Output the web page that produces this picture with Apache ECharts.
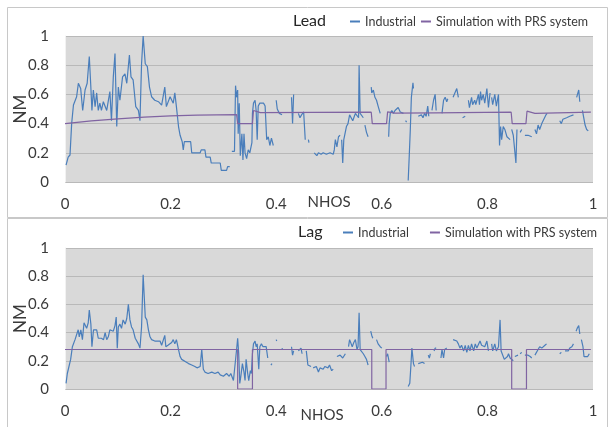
<!DOCTYPE html>
<html>
<head>
<meta charset="utf-8">
<script src="https://cdn.jsdelivr.net/npm/echarts@6/dist/echarts.min.js"></script>
<style>
html, body { margin: 0; background: #fff; }
#chart { width: 613px; height: 427px; }
</style>
</head>
<body>
<div id="chart"></div>
<script>
// [NHOS, NM] pairs, null = gap in the record
const leadIndustrial = [
  [0.002,0.116],[0.006,0.17],[0.0095,0.185],[0.0126,0.40],[0.016,0.527],[0.022,0.584],[0.0253,0.676],[0.0297,0.64],
  [0.0335,0.49],[0.038,0.63],[0.042,0.676],[0.046,0.86],[0.0486,0.676],[0.051,0.49],[0.0537,0.63],[0.057,0.516],
  [0.060,0.61],[0.063,0.49],[0.066,0.54],[0.069,0.49],[0.0726,0.55],[0.079,0.49],[0.085,0.62],[0.088,0.42],
  [0.0915,0.72],[0.0947,0.88],[0.098,0.38],[0.101,0.65],[0.104,0.56],[0.109,0.72],[0.1136,0.74],[0.117,0.676],
  [0.122,0.87],[0.125,0.72],[0.129,0.70],[0.134,0.516],[0.139,0.49],[0.142,0.42],[0.145,0.81],[0.148,1.0],
  [0.152,0.81],[0.156,0.79],[0.160,0.65],[0.164,0.584],[0.170,0.56],[0.177,0.55],[0.183,0.527],[0.189,0.65],
  [0.192,0.516],[0.199,0.584],[0.205,0.54],[0.208,0.61],[0.211,0.516],[0.215,0.38],[0.218,0.32],[0.222,0.276],
  [0.224,0.22],[0.226,0.276],[0.238,0.276],[0.24,0.2],[0.256,0.2],[0.258,0.22],[0.265,0.22],[0.267,0.17],
  [0.275,0.17],[0.277,0.13],[0.294,0.13],[0.296,0.08],[0.306,0.08],[0.308,0.105],[0.312,0.105],
  null,
  [0.316,0.21],[0.321,0.21],[0.323,0.66],[0.325,0.58],[0.327,0.63],[0.328,0.33],[0.33,0.54],[0.332,0.18],
  [0.335,0.33],[0.337,0.15],[0.339,0.33],[0.341,0.20],[0.344,0.16],[0.347,0.22],[0.35,0.20],[0.354,0.27],
  [0.355,0.47],[0.357,0.54],[0.36,0.56],[0.362,0.49],[0.364,0.29],[0.366,0.52],[0.369,0.54],[0.372,0.53],
  [0.376,0.54],[0.379,0.52],[0.382,0.29],[0.385,0.31],[0.388,0.25],[0.391,0.30],[0.3945,0.25],
  null,
  [0.40,0.56],[0.402,0.50],[0.406,0.47],[0.411,0.46],
  null,
  [0.429,0.58],[0.431,0.40],[0.433,0.60],
  null,
  [0.442,0.47],[0.445,0.44],[0.448,0.46],[0.452,0.48],[0.455,0.29],
  null,
  [0.461,0.29],[0.462,0.27],
  null,
  [0.472,0.20],[0.477,0.18],[0.48,0.20],[0.485,0.19],[0.489,0.20],[0.495,0.19],[0.502,0.20],[0.505,0.20],
  [0.508,0.19],[0.51,0.22],[0.512,0.29],[0.515,0.24],[0.518,0.31],[0.521,0.32],
  null,
  [0.524,0.29],[0.526,0.13],[0.528,0.29],[0.531,0.30],[0.533,0.38],[0.536,0.40],[0.539,0.46],[0.541,0.47],
  [0.545,0.42],[0.548,0.45],[0.55,0.47],[0.553,0.46],[0.556,0.44],[0.557,0.80],[0.559,0.47],[0.562,0.46],[0.565,0.44],
  null,
  [0.568,0.39],[0.571,0.34],[0.574,0.31],
  null,
  [0.58,0.65],[0.581,0.61],[0.584,0.63],[0.587,0.58],[0.59,0.56],[0.593,0.52],[0.597,0.47],
  null,
  [0.613,0.31],[0.614,0.40],[0.616,0.47],[0.619,0.49],[0.622,0.47],[0.625,0.49],[0.628,0.48],[0.631,0.51],
  [0.635,0.48],[0.638,0.49],[0.641,0.47],
  null,
  [0.645,0.42],[0.647,0.41],
  null,
  [0.65,0.01],[0.652,0.18],[0.654,0.36],[0.656,0.58],[0.659,0.68],[0.66,0.64],
  null,
  [0.669,0.45],[0.672,0.44],[0.675,0.46],[0.678,0.44],[0.681,0.47],[0.684,0.45],[0.687,0.52],[0.689,0.45],
  null,
  [0.695,0.49],[0.698,0.56],[0.701,0.60],[0.703,0.49],
  null,
  [0.714,0.47],[0.717,0.56],[0.72,0.58],[0.723,0.55],[0.725,0.57],
  null,
  [0.735,0.58],[0.738,0.57],[0.742,0.64],[0.745,0.58],
  null,
  [0.753,0.44],[0.758,0.45],
  null,
  [0.764,0.56],[0.766,0.51],[0.77,0.58],[0.772,0.53],[0.776,0.56],[0.778,0.53],[0.783,0.60],[0.785,0.53],
  [0.787,0.62],[0.789,0.56],[0.792,0.60],[0.795,0.54],[0.799,0.64],[0.802,0.51],[0.805,0.61],
  null,
  [0.808,0.58],[0.81,0.53],[0.814,0.60],[0.817,0.52],[0.821,0.60],[0.823,0.25],[0.825,0.38],[0.827,0.29],
  [0.83,0.38],[0.833,0.36],[0.837,0.31],[0.84,0.32],[0.843,0.29],
  null,
  [0.846,0.36],[0.849,0.32],[0.854,0.13],[0.856,0.36],
  null,
  [0.862,0.34],[0.865,0.36],
  null,
  [0.871,0.32],[0.877,0.32],[0.884,0.31],
  null,
  [0.89,0.36],[0.893,0.33],[0.896,0.39],[0.899,0.36],[0.903,0.40],[0.906,0.41],[0.911,0.46],[0.913,0.47],
  null,
  [0.937,0.42],[0.94,0.40],[0.943,0.43],[0.946,0.42],[0.95,0.44],[0.953,0.44],[0.956,0.45],[0.959,0.44],[0.963,0.46],
  null,
  [0.969,0.58],[0.973,0.63],[0.975,0.55],
  null,
  [0.98,0.49],[0.982,0.45],[0.985,0.39],[0.988,0.36],[0.991,0.35]
];

const leadSimulation = [
  [0,0.40],[0.05,0.418],[0.1,0.433],[0.15,0.445],[0.2,0.453],[0.25,0.458],[0.325,0.462],[0.327,0.40],
  [0.355,0.40],[0.357,0.49],[0.37,0.475],[0.58,0.478],[0.582,0.40],[0.609,0.40],[0.611,0.48],[0.625,0.472],
  [0.70,0.474],[0.845,0.478],[0.847,0.40],[0.873,0.40],[0.875,0.485],[0.89,0.47],[0.996,0.478]
];

const lagIndustrial = [
  [0.002,0.04],[0.0044,0.11],[0.008,0.11],[0.0107,0.21],[0.014,0.30],[0.019,0.35],[0.022,0.36],[0.025,0.42],
  [0.027,0.37],[0.030,0.42],[0.033,0.35],[0.036,0.47],[0.038,0.48],[0.041,0.43],[0.044,0.47],[0.046,0.56],
  [0.049,0.46],[0.051,0.30],[0.054,0.42],[0.057,0.43],[0.060,0.42],[0.063,0.36],[0.066,0.35],[0.069,0.36],
  [0.073,0.35],[0.076,0.40],[0.079,0.35],[0.082,0.37],[0.085,0.42],[0.088,0.43],[0.0915,0.41],[0.0947,0.45],
  [0.097,0.51],[0.099,0.29],[0.101,0.44],[0.104,0.46],[0.107,0.43],[0.11,0.49],[0.114,0.46],[0.117,0.50],
  [0.12,0.60],[0.123,0.49],[0.126,0.44],[0.129,0.42],[0.133,0.36],[0.136,0.35],[0.139,0.32],[0.142,0.29],
  [0.145,0.44],[0.148,0.81],[0.152,0.51],[0.155,0.49],[0.158,0.42],[0.161,0.37],[0.164,0.35],[0.167,0.36],
  [0.17,0.34],[0.173,0.35],[0.18,0.34],[0.183,0.31],[0.186,0.30],[0.189,0.38],[0.191,0.30],[0.195,0.31],
  [0.202,0.33],[0.205,0.35],[0.208,0.32],[0.211,0.35],[0.215,0.28],[0.218,0.23],[0.221,0.21],[0.224,0.21],
  [0.23,0.19],[0.234,0.18],[0.24,0.17],[0.246,0.16],[0.25,0.15],[0.253,0.16],[0.256,0.16],[0.259,0.28],
  [0.262,0.14],[0.265,0.12],[0.271,0.11],[0.278,0.12],[0.284,0.11],[0.29,0.12],[0.294,0.10],[0.297,0.11],
  [0.3,0.09],[0.303,0.10],[0.306,0.11],[0.309,0.12],[0.311,0.09],[0.314,0.11],[0.319,0.06],[0.322,0.06],
  [0.325,0.28],[0.327,0.36],[0.329,0.25],[0.331,0.04],[0.333,0.09],[0.336,0.18],[0.339,0.12],[0.341,0.06],
  [0.343,0.21],[0.346,0.11],[0.348,0.06],[0.351,0.13],[0.353,0.11],[0.355,0.25],[0.357,0.32],[0.36,0.34],
  [0.362,0.30],[0.364,0.32],[0.367,0.14],[0.369,0.30],[0.372,0.32],[0.375,0.30],[0.378,0.31],[0.381,0.30],[0.384,0.22],
  null,
  [0.39,0.17],[0.392,0.18],
  null,
  [0.40,0.35],[0.401,0.34],
  null,
  [0.411,0.29],[0.412,0.28],
  null,
  [0.429,0.30],[0.431,0.24],[0.433,0.27],
  null,
  [0.442,0.27],[0.445,0.26],[0.447,0.29],[0.449,0.25],
  null,
  [0.457,0.27],[0.46,0.17],[0.463,0.18],[0.466,0.16],
  null,
  [0.47,0.15],[0.473,0.14],[0.476,0.16],[0.48,0.12],[0.483,0.15],[0.489,0.14],[0.492,0.16],[0.498,0.15],
  [0.501,0.17],[0.503,0.16],[0.505,0.13],[0.508,0.14],
  null,
  [0.515,0.23],[0.518,0.22],[0.521,0.24],[0.526,0.22],[0.528,0.23],[0.531,0.25],
  null,
  [0.537,0.30],[0.539,0.35],[0.541,0.36],[0.544,0.30],[0.547,0.33],[0.55,0.35],[0.553,0.28],[0.555,0.30],
  [0.557,0.54],[0.559,0.28],[0.562,0.28],[0.565,0.25],[0.568,0.23],[0.571,0.21],[0.574,0.17],
  null,
  [0.579,0.41],[0.581,0.38],[0.583,0.36],
  null,
  [0.59,0.35],[0.593,0.32],[0.597,0.30],[0.6,0.29],
  null,
  [0.609,0.23],[0.611,0.25],[0.614,0.19],
  null,
  [0.65,0.017],[0.653,0.04],[0.655,0.16],[0.657,0.29],[0.66,0.18],[0.662,0.16],
  null,
  [0.669,0.18],[0.672,0.17],[0.677,0.19],[0.681,0.18],
  null,
  [0.688,0.24],[0.69,0.22],[0.692,0.25],
  null,
  [0.699,0.27],[0.701,0.29],[0.703,0.29],
  null,
  [0.712,0.22],[0.714,0.28],[0.717,0.22],[0.719,0.28],[0.721,0.28],[0.723,0.29],
  null,
  [0.735,0.35],[0.738,0.36],[0.742,0.34],[0.745,0.32],[0.748,0.29],[0.751,0.31],[0.755,0.27],[0.758,0.31],
  [0.761,0.26],[0.764,0.31],[0.767,0.27],[0.77,0.32],[0.774,0.27],[0.777,0.32],[0.78,0.29],[0.783,0.30],
  [0.786,0.34],[0.789,0.31],[0.792,0.32],[0.795,0.30],[0.799,0.34],[0.802,0.27],
  null,
  [0.808,0.32],[0.81,0.27],[0.814,0.32],[0.817,0.27],[0.821,0.30],[0.824,0.49],[0.826,0.27],[0.828,0.25],
  [0.832,0.21],[0.835,0.22],[0.838,0.23],[0.84,0.25],[0.843,0.22],[0.846,0.21],[0.849,0.20],
  null,
  [0.852,0.23],[0.855,0.22],[0.858,0.24],
  null,
  [0.862,0.25],[0.865,0.26],
  null,
  [0.871,0.24],[0.874,0.23],[0.877,0.24],[0.881,0.23],[0.884,0.22],
  null,
  [0.89,0.24],[0.893,0.25],[0.896,0.28],[0.899,0.30],[0.903,0.29],[0.909,0.31],[0.912,0.32],
  null,
  [0.937,0.25],[0.94,0.26],
  null,
  [0.947,0.27],[0.95,0.28],[0.953,0.27],[0.956,0.29],[0.96,0.30],[0.963,0.32],
  null,
  [0.968,0.41],[0.97,0.43],[0.973,0.45],[0.975,0.39],
  null,
  [0.978,0.35],[0.981,0.30],[0.983,0.23],[0.986,0.24],[0.99,0.23],[0.993,0.25]
];

const lagSimulation = [
  [0,0.28],[0.327,0.28],[0.327,0],[0.355,0],[0.355,0.28],[0.581,0.28],[0.581,0],[0.608,0],
  [0.608,0.28],[0.846,0.28],[0.846,0],[0.874,0],[0.874,0.28],[0.996,0.28]
];

const panelTitles = ['Lead', 'Lag'];
const seriesNames = ['Industrial', 'Simulation with PRS system'];
const xAxisName = 'NHOS';
const yAxisName = 'NM';

const blue = '#4a7ebb';
const purple = '#8064a2';
const font = 'Lato';
const textColor = '#3a3a3a';

const toData = pts => pts.map(p => (p === null ? ['-', '-'] : p));

function xAxisFor(i, gap, shift) {
  return {
    gridIndex: i, type: 'value', min: 0, max: 1, interval: 0.2,
    name: xAxisName, nameLocation: 'middle', nameGap: gap, nameMoveOverlap: false,
    nameTextStyle: { fontFamily: font, fontSize: 15, color: textColor, padding: [0, shift, 0, 0] },
    axisLine: { show: false }, axisTick: { show: false }, splitLine: { show: false },
    axisLabel: { fontFamily: font, fontSize: 15, color: textColor, margin: 15 }
  };
}

function yAxisFor(i) {
  return {
    gridIndex: i, type: 'value', min: 0, max: 1, interval: 0.2,
    name: yAxisName, nameLocation: 'middle', nameGap: 36, nameMoveOverlap: false,
    nameTextStyle: { fontFamily: font, fontSize: 17, color: textColor },
    axisLine: { show: true, lineStyle: { color: '#f2f2f2', width: 1 } },
    axisTick: { show: false },
    splitLine: { lineStyle: { color: '#b9b9b9', width: 1 } },
    axisLabel: { fontFamily: font, fontSize: 15, color: textColor, margin: 16 }
  };
}

function legendFor(left, top, gap) {
  return {
    left: left, top: top, padding: 0, itemWidth: 10, itemHeight: 2, itemGap: gap, icon: 'rect',
    orient: 'horizontal', data: seriesNames, selectedMode: false,
    textStyle: { fontFamily: font, fontSize: 12.5, color: textColor }
  };
}

const chart = echarts.init(document.getElementById('chart'));
chart.setOption({
  animation: false,
  backgroundColor: '#fff',
  title: [
    { text: panelTitles[0], left: 293, top: 13, padding: 0, textStyle: { fontFamily: font, fontSize: 16, fontWeight: 'normal', color: '#262626' } },
    { text: panelTitles[1], left: 298, top: 224, padding: 0, textStyle: { fontFamily: font, fontSize: 16, fontWeight: 'normal', color: '#262626' } }
  ],
  legend: [legendFor(350, 15, 5), legendFor(343, 226, 21)],
  graphic: [
    { type: 'rect', shape: { x: 7.5, y: 7.5, width: 600, height: 210 }, style: { fill: 'none', stroke: '#c8c8c8', lineWidth: 1 }, silent: true },
    { type: 'rect', shape: { x: 7.5, y: 218.5, width: 600, height: 215 }, style: { fill: 'none', stroke: '#c8c8c8', lineWidth: 1 }, silent: true }
  ],
  grid: [
    { left: 65, top: 36, width: 528, height: 146, show: true, backgroundColor: '#d9d9d9', borderWidth: 0, outerBoundsMode: 'none', containLabel: false },
    { left: 65, top: 248, width: 528, height: 141, show: true, backgroundColor: '#d9d9d9', borderWidth: 0, outerBoundsMode: 'none', containLabel: false }
  ],
  xAxis: [xAxisFor(0, 13, 0), xAxisFor(1, 19, 14)],
  yAxis: [yAxisFor(0), yAxisFor(1)],
  series: [
    { name: seriesNames[0], type: 'line', xAxisIndex: 0, yAxisIndex: 0, data: toData(leadIndustrial),
      symbol: 'none', connectNulls: false, lineStyle: { color: blue, width: 1.2 }, itemStyle: { color: blue } },
    { name: seriesNames[1], type: 'line', xAxisIndex: 0, yAxisIndex: 0, data: leadSimulation,
      symbol: 'none', lineStyle: { color: purple, width: 1.2 }, itemStyle: { color: purple } },
    { name: seriesNames[0], type: 'line', xAxisIndex: 1, yAxisIndex: 1, data: toData(lagIndustrial),
      symbol: 'none', connectNulls: false, lineStyle: { color: blue, width: 1.2 }, itemStyle: { color: blue } },
    { name: seriesNames[1], type: 'line', xAxisIndex: 1, yAxisIndex: 1, data: lagSimulation,
      symbol: 'none', lineStyle: { color: purple, width: 1.2 }, itemStyle: { color: purple } }
  ]
});
</script>
</body>
</html>
